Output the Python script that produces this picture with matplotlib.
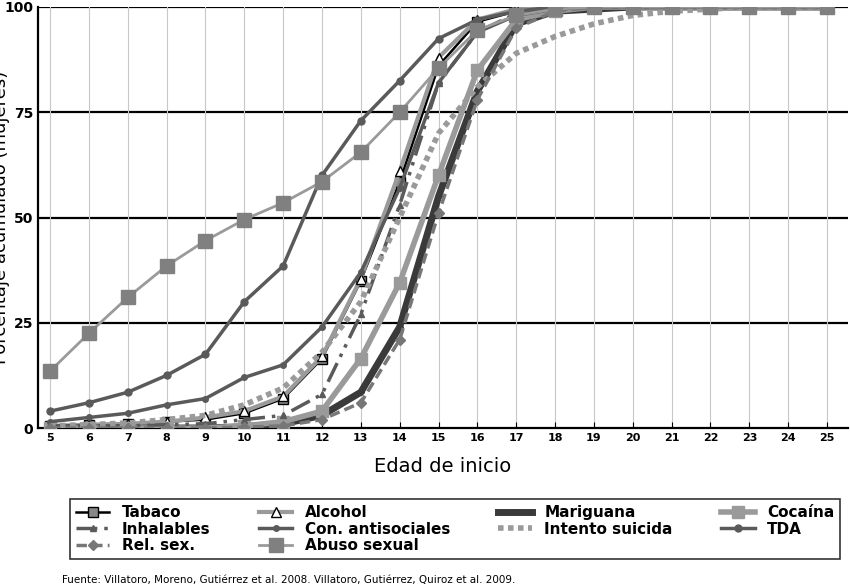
import matplotlib
matplotlib.use("Agg")
import matplotlib.pyplot as plt

ages = list(range(5, 26))
tail = lambda n: [100]*n
tabaco = [0.5,0.8,1,1.5,2,3.5,7,16.5,35,58.5,86,96.5,99,100] + tail(7)
alcohol = [0.5,0.8,1,1.5,2.5,4,7.5,17,35.5,61,88,97,99.5,100] + tail(7)
mariguana = [0,0,0,0,0,0.3,1,3,8.5,24,55,80,96,99,99.5] + tail(6)
cocaina = [0,0,0,0,0,0.5,1.5,4,16.5,34.5,60,85,97,99,100] + tail(6)
inhalables = [0.5,0.5,0.5,0.8,1,2,3,8,27,53,82,94,98.5,99.5,100] + tail(6)
antisoc = [1.5,2.5,3.5,5.5,7,12,15,24,37,57,82,94,98,99.5,100] + tail(6)
suicida = [0.5,0.8,1.2,2,3,5.5,9.5,18,30,50,70,81,89,93,96,98,99,99.5,100,100,100]
tda = [4,6,8.5,12.5,17.5,30,38.5,60,73,82.5,92.5,97,99,100] + tail(7)
relsex = [0,0,0,0,0,0.2,0.5,2,6,21,51,78,95,99,100] + tail(6)
abuso = [13.5,22.5,31,38.5,44.5,49.5,53.5,58.5,65.5,75,85.5,94.5,98,99.5,100] + tail(6)

fig = plt.figure(figsize=(8.5, 5.88), dpi=100)
ax = fig.add_axes([38/850, 1-428/588, 810/850, 421/588])
ax.set_xlim(4.69, 25.54)
ax.set_ylim(0, 100)
for y in [25, 50, 75, 100]:
    ax.axhline(y, color='black', lw=1.6, zorder=0)
for x in ages:
    ax.axvline(x, color='#c8c8c8', lw=0.8, zorder=0)

D = '#3a3a3a'; M = '#5a5a5a'; L = '#9a9a9a'
specs = [
 ("Tabaco", tabaco, dict(color='black', lw=1.8, marker='s', ms=7, mfc='#888888', mec='black')),
 ("Alcohol", alcohol, dict(color=L, lw=3, marker='^', ms=7, mfc='white', mec='black')),
 ("Mariguana", mariguana, dict(color=D, lw=5, marker='D', ms=3, mfc=D, mec=D)),
 ("Cocaína", cocaina, dict(color=L, lw=4, marker='s', ms=9, mfc=L, mec=L)),
 ("Inhalables", inhalables, dict(color=M, lw=2.5, ls=(0,(6,2,1,2,1,2)), marker='^', ms=4, mfc=M, mec=M)),
 ("Con. antisociales", antisoc, dict(color=M, lw=2.5, marker='o', ms=4, mfc=M, mec=M)),
 ("Intento suicida", suicida, dict(color=L, lw=4, ls=(0,(1,0.8)))),
 ("TDA", tda, dict(color=M, lw=2.5, marker='o', ms=5, mfc=M, mec=M)),
 ("Rel. sex.", relsex, dict(color='#777777', lw=2.5, ls=(0,(3,1.5)), marker='D', ms=5, mfc='#777777', mec='#777777')),
 ("Abuso sexual", abuso, dict(color=L, lw=2, marker='s', ms=10, mfc='#808080', mec='#808080')),
]
for name, vals, kw in specs:
    ax.plot(ages, vals, label=name, zorder=3, **kw)
handles, labels = ax.get_legend_handles_labels()

ax.set_xticks(ages)
ax.set_xticklabels([str(a) for a in ages], fontsize=8, fontweight='bold')
ax.set_yticks([0, 25, 50, 75, 100])
ax.set_yticklabels(['0', '25', '50', '75', '100'], fontsize=10, fontweight='bold')
ax.tick_params(axis='x', length=4, direction='in')
ax.tick_params(axis='y', length=0)
for s in ['top', 'right']:
    ax.spines[s].set_visible(False)
ax.spines['left'].set_linewidth(1.6)
ax.spines['bottom'].set_linewidth(1.6)
ax.set_xlabel("Edad de inicio", fontsize=14, labelpad=10)
ax.set_ylabel("Porcentaje acumulado (mujeres)", fontsize=13)
ax.yaxis.set_label_coords(-0.034, 0.5)

n = 4
order = list(range(10))
rows = [order[i:i+n] for i in range(0, 10, n)]
cols = [[r[c] for r in rows if c < len(r)] for c in range(n)]
flat = [i for c in cols for i in c]
leg = fig.legend([handles[i] for i in flat], [labels[i] for i in flat],
                 loc='lower left', bbox_to_anchor=(62/850, 1-567/588, 786/850, 62/588),
                 mode='expand', ncol=4, frameon=True, fancybox=False, edgecolor='black',
                 prop=dict(weight='bold', size=11), handlelength=2.2,
                 labelspacing=0.1, borderpad=0.4)
leg.get_frame().set_linewidth(1.2)

fig.text(62/850, 1-580/588, "Fuente: Villatoro, Moreno, Gutiérrez et al. 2008. Villatoro, Gutiérrez, Quiroz et al. 2009.",
         fontsize=7.5, va='center')
fig.savefig("out.png", dpi=100)
